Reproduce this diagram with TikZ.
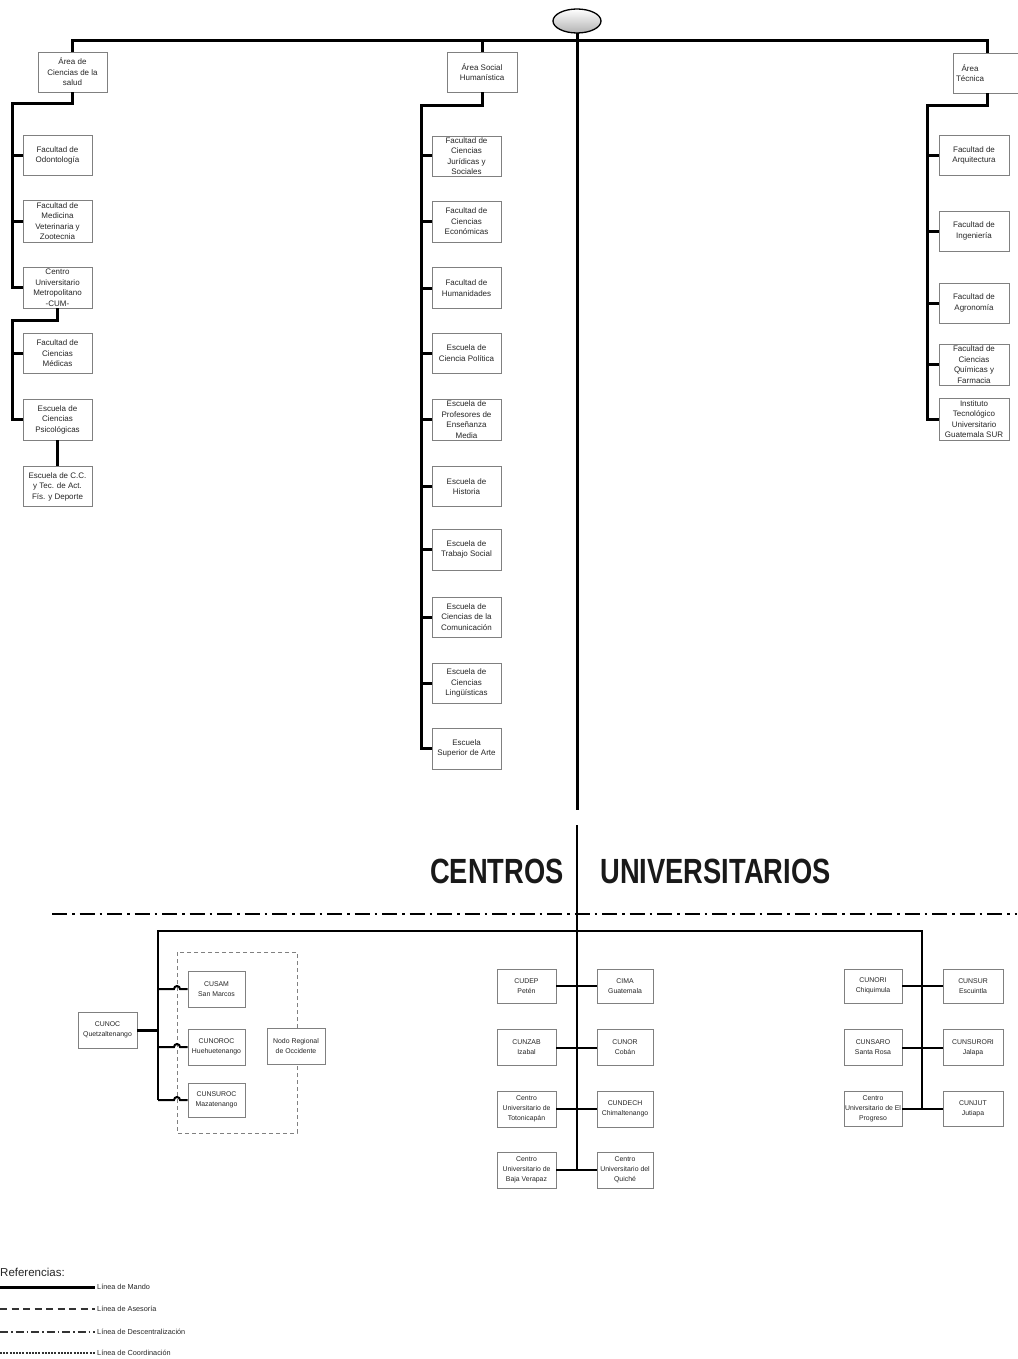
\documentclass[tikz,border=0pt]{standalone}
\usepackage{fontspec}
\setmainfont{Liberation Sans}
\usetikzlibrary{shapes.geometric}
\definecolor{boxline}{HTML}{808080}
\definecolor{txt}{HTML}{262626}
\begin{document}
\begin{tikzpicture}[x=1pt,y=-1pt,
  tbox/.style={draw=boxline, line width=0.9pt, fill=white, align=center, inner sep=0pt, text=txt,
    font=\fontsize{8}{10.5}\selectfont, minimum width=69pt, minimum height=40pt},
  bbox/.style={draw=boxline, line width=0.9pt, fill=white, align=center, inner sep=0pt, text=txt,
    font=\fontsize{6.9}{10}\selectfont, minimum height=36pt},
  mando/.style={line width=3pt, black},
  sub/.style={line width=2pt, black},
  descent/.style={line width=2.2pt, black, dash pattern=on 15pt off 5pt on 2.5pt off 5pt},
  asesor/.style={line width=1pt, boxline, dash pattern=on 4pt off 3pt},
  legtext/.style={anchor=west, inner sep=2.5pt, text=txt, font=\fontsize{7.3}{8}\selectfont},
  title/.style={inner sep=0pt, text=black!90, font=\fontsize{35}{35}\selectfont\bfseries}
]
\useasboundingbox (0,0) rectangle (1017,1359);

% ---------------- top: areas ----------------
\coordinate (ty) at (0,41);
\coordinate (lbus) at (12,104);
\coordinate (lbus2) at (12,320);
\coordinate (mbus) at (421,106);
\coordinate (rbus) at (927,106);
\coordinate (c1) at (577,810);

% left column
\node[tbox] (salud) at (72.5,72) {Área de\\Ciencias de la\\salud};
\node[tbox] (odo) at (57.5,155.5) {Facultad de\\Odontología};
\node[tbox, minimum height=42pt] (vet) at (57.5,221) {Facultad de\\Medicina\\Veterinaria y\\Zootecnia};
\node[tbox, minimum height=41pt] (cum) at (57.5,287.5) {Centro\\Universitario\\Metropolitano\\-CUM-};
\node[tbox] (med) at (57.5,353.5) {Facultad de\\Ciencias\\Médicas};
\node[tbox, minimum height=41pt] (psi) at (57.5,419.5) {Escuela de\\Ciencias\\Psicológicas};
\node[tbox] (dep) at (57.5,486.5) {Escuela de C.C.\\y Tec. de Act.\\Fís. y Deporte};

% middle column
\node[tbox, minimum width=70pt] (social) at (482,72) {Área Social\\Humanística};
\node[tbox] (jur) at (466.5,156) {Facultad de\\Ciencias\\Jurídicas y\\Sociales};
\node[tbox, minimum height=41pt] (eco) at (466.5,221.5) {Facultad de\\Ciencias\\Económicas};
\node[tbox, minimum height=41pt] (hum) at (466.5,288) {Facultad de\\Humanidades};
\node[tbox] (pol) at (466.5,353) {Escuela de\\Ciencia Política};
\node[tbox, minimum height=41pt] (pro) at (466.5,419.5) {Escuela de\\Profesores de\\Enseñanza\\Media};
\node[tbox] (his) at (466.5,486.5) {Escuela de\\Historia};
\node[tbox, minimum height=41pt] (tra) at (466.5,549.5) {Escuela de\\Trabajo Social};
\node[tbox] (com) at (466.5,617) {Escuela de\\Ciencias de la\\Comunicación};
\node[tbox] (lin) at (466.5,683) {Escuela de\\Ciencias\\Lingüísticas};
\node[tbox, minimum height=41pt] (arte) at (466.5,748.5) {Escuela\\Superior de Arte};

% right column
\node[tbox] (tecnica) at (987.5,73) {Área\hspace*{35pt}\\Técnica\hspace*{35pt}};
\node[tbox, minimum width=70pt] (arq) at (974,155.5) {Facultad de\\Arquitectura};
\node[tbox, minimum width=70pt] (ing) at (974,231) {Facultad de\\Ingeniería};
\node[tbox, minimum width=70pt] (agr) at (974,303) {Facultad de\\Agronomía};
\node[tbox, minimum width=70pt, minimum height=41pt] (qui) at (974,364.5) {Facultad de\\Ciencias\\Químicas y\\Farmacia};
\node[tbox, minimum width=70pt, minimum height=42pt] (itu) at (974,419) {Instituto\\Tecnológico\\Universitario\\Guatemala SUR};

% top connectors
\draw[mando] (salud.north) -- (salud.north |- ty) -- (tecnica.north |- ty) -- (tecnica.north);
\draw[mando] (social.north) -- (social.north |- ty);

\draw[mando] (salud.south) -- (salud.south |- lbus) -- (lbus) -- (lbus |- cum.west) -- (cum.west);
\foreach \n in {odo,vet} \draw[mando] (lbus |- \n.west) -- (\n.west);
\draw[mando] (cum.south) -- (cum.south |- lbus2) -- (lbus2) -- (lbus2 |- psi.west) -- (psi.west);
\draw[mando] (lbus2 |- med.west) -- (med.west);
\draw[mando] (psi.south) -- (dep.north);

\draw[mando] (social.south) -- (social.south |- mbus) -- (mbus) -- (mbus |- arte.west) -- (arte.west);
\foreach \n in {jur,eco,hum,pol,pro,his,tra,com,lin} \draw[mando] (mbus |- \n.west) -- (\n.west);

\draw[mando] (tecnica.south) -- (tecnica.south |- rbus) -- (rbus) -- (rbus |- itu.west) -- (itu.west);
\foreach \n in {arq,ing,agr,qui} \draw[mando] (rbus |- \n.west) -- (\n.west);

% rector ellipse and central line
\draw[mando] (577,33) -- (c1);
\node[ellipse, draw=black, line width=1.3pt, top color=white, bottom color=gray!60,
  minimum width=48pt, minimum height=24pt, inner sep=0pt] (rector) at (577,21) {};

% ---------------- title ----------------
\node[title] (t1) at (497,871) {\scalebox{0.78}[1]{CENTROS}};
\node[title] (t2) at (715.5,871) {\scalebox{0.78}[1]{UNIVERSITARIOS}};

\coordinate (dd1) at (52,914);
\coordinate (dd2) at (1017,914);
\draw[descent] (dd1) -- (dd2);

% ---------------- bottom: centros ----------------
\coordinate (c2) at (577,825);
\coordinate (lb) at (158,931);
\coordinate (rb) at (922,931);

\draw[asesor] (177,952) rectangle (297,1133);

% left group
\node[bbox, minimum width=59pt] (cunoc) at (107.5,1030) {CUNOC\\Quetzaltenango};
\node[bbox, minimum width=57pt] (cusam) at (216.5,989) {CUSAM\\San Marcos};
\node[bbox, minimum width=57pt] (cunoroc) at (216.5,1047) {CUNOROC\\Huehuetenango};
\node[bbox, minimum width=57pt, minimum height=34pt] (cunsuroc) at (216.5,1100) {CUNSUROC\\Mazatenango};
\node[bbox, minimum width=58pt] (nodo) at (296,1046) {Nodo Regional\\de Occidente};

% middle group
\node[bbox, minimum width=59pt, minimum height=34pt] (cudep) at (526.5,986) {CUDEP\\Petén};
\node[bbox, minimum width=56pt, minimum height=34pt] (cima) at (625,986) {CIMA\\Guatemala};
\node[bbox, minimum width=59pt] (cunzab) at (526.5,1047.5) {CUNZAB\\Izabal};
\node[bbox, minimum width=56pt] (cunor) at (625,1047.5) {CUNOR\\Cobán};
\node[bbox, minimum width=59pt] (toto) at (526.5,1109) {Centro\\Universitario de\\Totonicapán};
\node[bbox, minimum width=56pt] (cundech) at (625,1109) {CUNDECH\\Chimaltenango};
\node[bbox, minimum width=59pt] (bvp) at (526.5,1170) {Centro\\Universitario de\\Baja Verapaz};
\node[bbox, minimum width=56pt] (qui2) at (625,1170) {Centro\\Universitario del\\Quiché};

% right group
\node[bbox, minimum width=58pt, minimum height=34pt] (cunori) at (873,986) {CUNORI\\Chiquimula};
\node[bbox, minimum width=60pt, minimum height=34pt] (cunsur) at (973,986) {CUNSUR\\Escuintla};
\node[bbox, minimum width=58pt] (cunsaro) at (873,1047.5) {CUNSARO\\Santa Rosa};
\node[bbox, minimum width=60pt] (cunsurori) at (973,1047.5) {CUNSURORI\\Jalapa};
\node[bbox, minimum width=58pt, minimum height=35pt] (cuprog) at (873,1108.5) {Centro\\Universitario de El\\Progreso};
\node[bbox, minimum width=60pt, minimum height=35pt] (cunjut) at (973,1108.5) {CUNJUT\\Jutiapa};

% bottom connectors
\draw[sub] (c2) -- (c2 |- bvp.east);
\draw[sub] (lb |- cunsuroc.west) -- (lb) -- (rb) -- (rb |- cuprog.east);
\draw[mando] (cunoc.east) -- (lb |- cunoc.east);
\foreach \n in {cusam,cunoroc,cunsuroc}
  \draw[sub] (lb |- \n.west) -- ++(16,0) arc (180:360:3) -- (\n.west);

\draw[sub] (cudep.east) -- (cima.west);
\draw[sub] (cunzab.east) -- (cunor.west);
\draw[sub] (toto.east) -- (cundech.west);
\draw[sub] (bvp.east) -- (qui2.west);

\draw[sub] (cunori.east) -- (cunsur.west);
\draw[sub] (cunsaro.east) -- (cunsurori.west);
\draw[sub] (cuprog.east) -- (cunjut.west);

% ---------------- legend ----------------
\node[anchor=west, inner sep=0pt, text=txt, font=\fontsize{11.5}{12}\selectfont] (ref) at (0,1272) {Referencias:};
\coordinate (la1) at (0,1287);
\coordinate (la2) at (0,1309);
\coordinate (la3) at (0,1332);
\coordinate (la4) at (0,1353);
\node[legtext] (lm) at (94.5,1287) {Línea de Mando};
\node[legtext] (la) at (94.5,1309) {Línea de Asesoría};
\node[legtext] (ld) at (94.5,1332) {Línea de Descentralización};
\node[legtext] (lc) at (94.5,1353) {Línea de Coordinación};
\draw[mando] (la1) -- (lm.west);
\draw[line width=1.3pt, black!80, dash pattern=on 7pt off 4.5pt] (la2) -- (la.west);
\draw[line width=1.5pt, black!80, dash pattern=on 8pt off 3pt on 1.5pt off 3pt] (la3) -- (ld.west);
\draw[line width=2.5pt, black!80, dash pattern=on 2pt off 1.2pt] (la4) -- (lc.west);
\end{tikzpicture}
\end{document}
